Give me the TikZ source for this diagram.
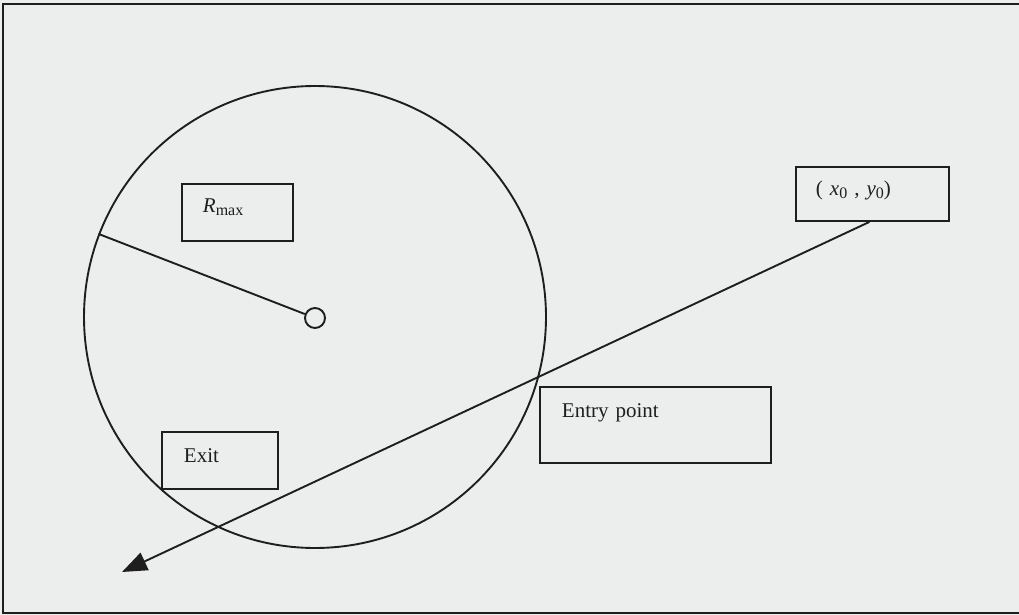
\documentclass[tikz,border=0pt]{standalone}
\usepackage{fontspec}
\setmainfont{Liberation Serif}
\usetikzlibrary{arrows.meta}
\definecolor{paper}{HTML}{ECEEED}
\definecolor{ink}{HTML}{1E1E1E}
% subscript set a little larger than the default
\newcommand\lowidx[1]{\raisebox{-0.3ex}{\fontsize{16}{16}\selectfont #1}}
\tikzset{
  line/.style={draw=ink, line width=1.9pt},
  tag/.style={line, anchor=north west, inner ysep=0pt, align=left,
              font=\fontsize{21}{24}\selectfont, text=ink},
}
\begin{document}
\begin{tikzpicture}[x=1pt,y=-1pt]
  \useasboundingbox (0,0) rectangle (1019,615);
  \fill[paper] (0,0) rectangle (1019,615);
  % open frame (right side runs off the page)
  \draw[draw=ink, line width=2.8pt] (1040,4) -- (3,4) -- (3,613) -- (1040,613);

  % search circle and its centre
  \node[line, circle, minimum size=462pt, inner sep=0pt] (big) at (315,317) {};
  \node[line, circle, minimum size=20pt, inner sep=0pt] (ctr) at (315,318) {};
  \draw[line] (big.159.7) -- (ctr);

  % labels
  \node[tag, inner xsep=21pt, text width=69pt, text height=29pt, text depth=28pt]
    (rmax) at (181,183) {\textit{R}\lowidx{max}};
  \node[tag, inner xsep=20pt, text width=113pt, text height=29pt, text depth=25pt]
    (xy) at (795,166) {( \textit{x}\lowidx{0} , \textit{y}\lowidx{0})};
  \node[tag, inner xsep=22pt, text width=187pt, text height=31pt, text depth=45pt]
    (entry) at (539,386) {Entry point};
  \node[tag, inner xsep=22pt, text width=72pt, text height=31pt, text depth=26pt]
    (exit) at (161,431) {Exit};

  % trajectory from the start point through the circle
  \coordinate (tip) at (122,572);
  \draw[line, -{Triangle[length=25pt,width=19pt]}] ([xshift=-3pt]xy.south) -- (tip);
\end{tikzpicture}
\end{document}
